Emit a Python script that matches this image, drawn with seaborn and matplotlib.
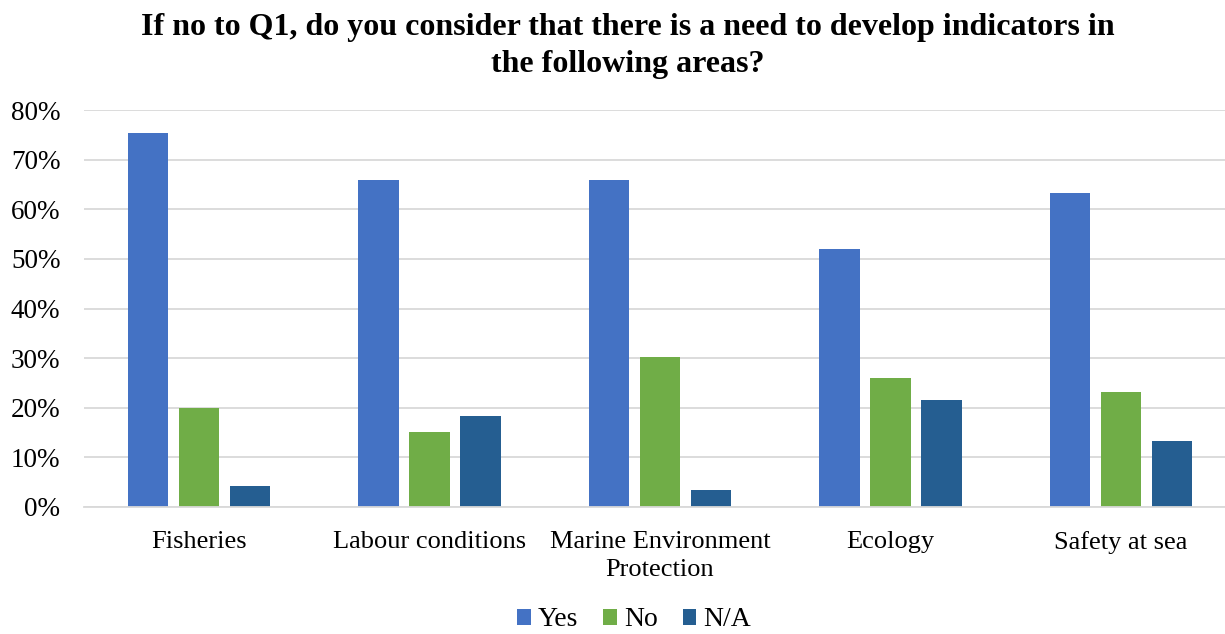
import matplotlib
matplotlib.use("Agg")
import matplotlib.pyplot as plt
from matplotlib.patches import Patch
import seaborn as sns
import pandas as pd

categories = ["Fisheries", "Labour conditions", "Marine Environment\nProtection", "Ecology", "Safety at sea"]
series_names = ["Yes", "No", "N/A"]
yes_vals = [0.754, 0.659, 0.658, 0.520, 0.632]
no_vals = [0.199, 0.152, 0.302, 0.259, 0.232]
na_vals = [0.042, 0.183, 0.034, 0.215, 0.132]
colors = ["#4472C4", "#70AD47", "#255E91"]
y_ticks = [0, 0.1, 0.2, 0.3, 0.4, 0.5, 0.6, 0.7, 0.8]
y_labels = ["0%", "10%", "20%", "30%", "40%", "50%", "60%", "70%", "80%"]
title = "If no to Q1, do you consider that there is a need to develop indicators in\nthe following areas?"

rows = []
for name, vals in zip(series_names, [yes_vals, no_vals, na_vals]):
    for c, v in zip(categories, vals):
        rows.append({"category": c, "response": name, "value": v})
df = pd.DataFrame(rows)

sns.set_theme(style="white")
plt.rcParams["font.family"] = ["Liberation Serif", "DejaVu Serif"]
plt.rcParams["text.color"] = "black"

fig = plt.figure(figsize=(12.25, 6.34), dpi=100)
ax = fig.add_axes([84 / 1225, 1 - 507 / 634, 1 - 84 / 1225, (507 - 110) / 634])

sns.barplot(data=df, x="category", y="value", hue="response", order=categories,
            hue_order=series_names, palette=colors, width=0.664, gap=0.21,
            saturation=1, ax=ax, legend=False, edgecolor="none")

ax.set_xlim(-0.5, 4.452)
ax.set_ylim(0, 0.8)
ax.set_yticks(y_ticks)
ax.set_yticklabels(y_labels, fontsize=19.5, color="black")
for lbl in ax.get_xticklabels():
    lbl.set_linespacing(1.4)
ax.tick_params(axis="x", labelsize=19, colors="black", length=0, pad=17)
ax.tick_params(axis="y", length=0, pad=17)
ax.set_xlabel("")
ax.set_ylabel("")
ax.yaxis.grid(True, color="#D9D9D9", linewidth=1.3)
ax.set_axisbelow(True)
for s in ["top", "right", "left"]:
    ax.spines[s].set_visible(False)
ax.spines["bottom"].set_color("#D9D9D9")
ax.spines["bottom"].set_linewidth(1.3)

fig.text(628 / 1225, 1 - 46 / 634, title, ha="center", va="center",
         fontsize=23, fontweight="bold", linespacing=1.35, color="black")

handles = [Patch(facecolor=c, edgecolor="none") for c in colors]
fig.legend(handles, series_names, loc="center", bbox_to_anchor=(634 / 1225, 1 - 620 / 634),
           ncol=3, frameon=False, fontsize=20, handlelength=0.5, handleheight=0.5,
           handletextpad=0.25, columnspacing=0.9, borderpad=0.2)

fig.savefig("out.png", dpi=100)
